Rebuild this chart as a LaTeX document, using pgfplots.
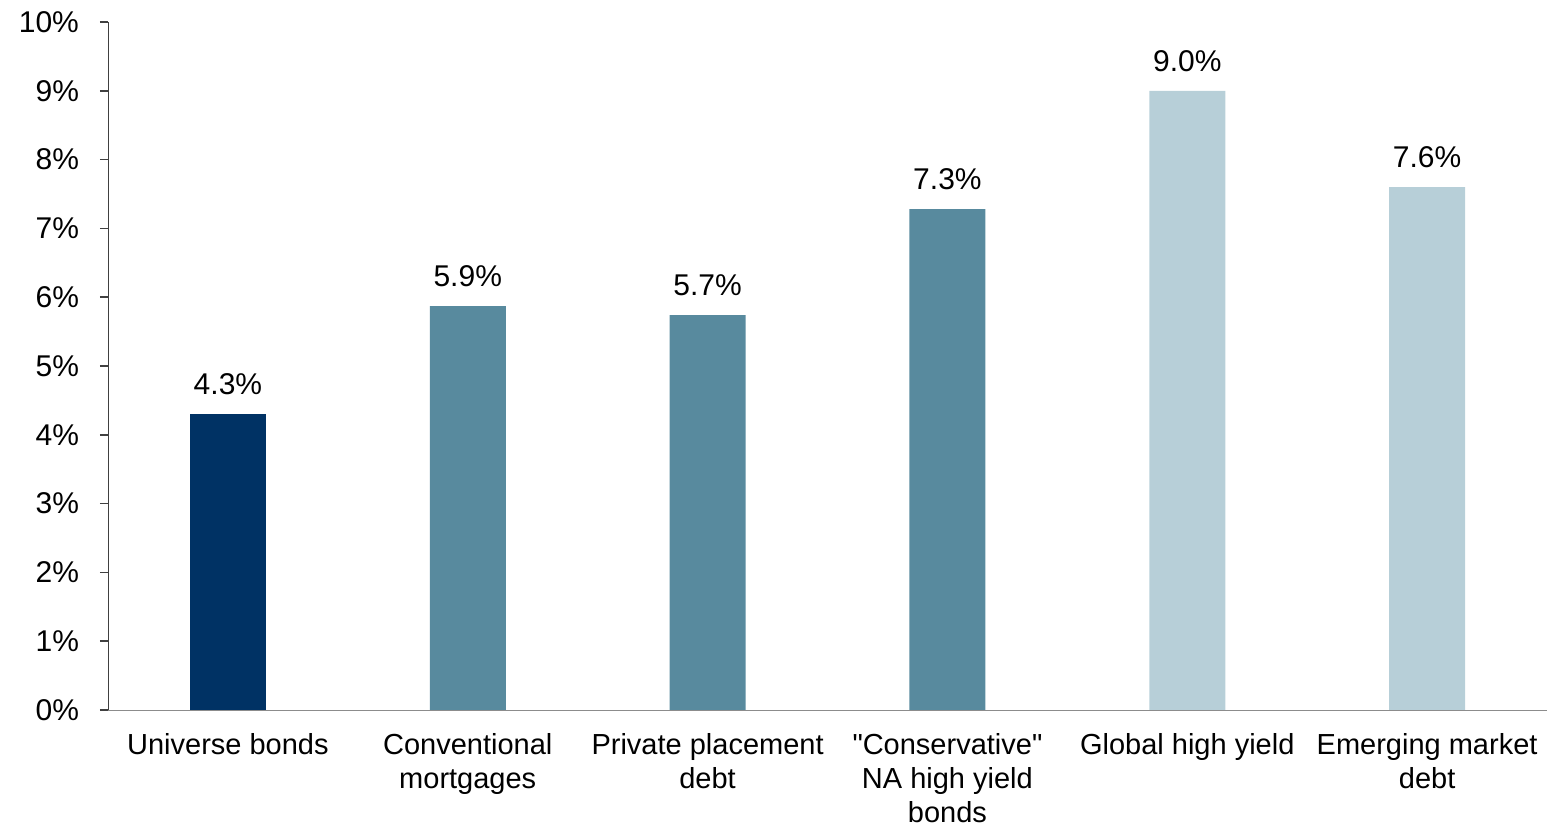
\documentclass[border=0pt]{standalone}
\usepackage{pgfplots}
\pgfplotsset{compat=1.18}
\usepackage{fontspec}
\setmainfont{Liberation Sans}[Ligatures=TeXOff]
\definecolor{cnavy}{RGB}{0,50,100}
\definecolor{cteal}{RGB}{88,138,158}
\definecolor{clight}{RGB}{183,207,216}
\begin{document}
\begin{tikzpicture}
\begin{axis}[name=ax,
  width=719.5pt, height=344pt, scale only axis,
  xmin=-0.5, xmax=5.5, ymin=0, ymax=10,
  axis x line*=bottom, axis y line*=left,
  x axis line style={draw=black!45, -},
  y axis line style={draw=black!75, -},
  ybar, bar width=38pt, bar shift=0pt,
  xtick={0,...,5},
  xticklabels={Universe bonds, Conventional\\mortgages, Private placement\\debt, "Conservative"\\NA high yield\\bonds, Global high yield, Emerging market\\debt},
  xticklabel style={align=center, yshift=-4pt, font=\fontsize{14.5}{17}\selectfont},
  x tick style={draw=none},
  ytick={0,...,10},
  yticklabel={\pgfmathprintnumber{\tick}\%},
  /pgf/number format/assume math mode=true,
  yticklabel style={xshift=-7pt, font=\fontsize{15}{18}\selectfont},
  y tick style={draw=black!75, line width=0.8pt},
  tick align=outside, major tick length=4pt,
  tick label style={black},
  nodes near coords={\pgfmathprintnumber[fixed,precision=1,fixed zerofill]{\pgfplotspointmeta}\%},
  every node near coord/.append style={font=\fontsize{15}{18}\selectfont, black, yshift=6pt},
  clip=false,
]
\addplot[draw=none, fill=cnavy] coordinates {(0,4.3)};
\addplot[draw=none, fill=cteal] coordinates {(1,5.87) (2,5.74) (3,7.28)};
\addplot[draw=none, fill=clight] coordinates {(4,9.0) (5,7.6)};
\end{axis}
\path[use as bounding box] ([xshift=-54pt,yshift=-57pt]ax.south west) rectangle ([xshift=6pt,yshift=11pt]ax.north east);
\end{tikzpicture}
\end{document}
